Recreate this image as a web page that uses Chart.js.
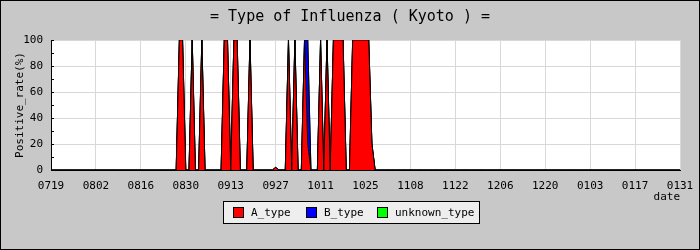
<!DOCTYPE html>
<html>
<head>
<meta charset="utf-8">
<script src="https://cdn.jsdelivr.net/npm/chart.js@4"></script>
<style>
  body { margin: 0; background: #c8c8c8; }
  #wrap { width: 700px; height: 250px; }
</style>
</head>
<body>
<div id="wrap"><canvas id="fluChart" width="700" height="250"></canvas></div>
<script>
// tick labels every 14 days, from 0719 to 0131
const tickLabels = ["0719", "0802", "0816", "0830", "0913", "0927", "1011", "1025",
                    "1108", "1122", "1206", "1220", "0103", "0117", "0131"];
const seriesNames = ["A_type", "B_type", "unknown_type"];
const seriesColors = ["#ff0000", "#0000ff", "#00ff00"];

// daily positive rate (%), one row = 14 days starting at the tick label
const aType = [
  0, 0, 0, 0, 0, 0, 0, 0, 0, 0, 0, 0, 0, 0,            // 0719
  0, 0, 0, 0, 0, 0, 0, 0, 0, 0, 0, 0, 0, 0,            // 0802
  0, 0, 0, 0, 0, 0, 0, 0, 0, 0, 0, 0, 100, 100,        // 0816
  0, 0, 100, 0, 0, 100, 0, 0, 0, 0, 0, 0, 100, 100,    // 0830
  0, 100, 100, 0, 0, 0, 100, 0, 0, 0, 0, 0, 0, 0,      // 0913
  2, 0, 0, 0, 100, 0, 100, 0, 0, 100, 20, 0, 0, 0,     // 0927
  100, 0, 100, 0, 100, 100, 100, 100, 0, 0, 100, 100, 100, 100, // 1011
  100, 100, 20, 0, 0, 0, 0, 0, 0, 0, 0, 0, 0, 0,       // 1025
  0, 0, 0, 0, 0, 0, 0, 0, 0, 0, 0, 0, 0, 0,            // 1108
  0, 0, 0, 0, 0, 0, 0, 0, 0, 0, 0, 0, 0, 0,            // 1122
  0, 0, 0, 0, 0, 0, 0, 0, 0, 0, 0, 0, 0, 0,            // 1206
  0, 0, 0, 0, 0, 0, 0, 0, 0, 0, 0, 0, 0, 0,            // 1220
  0, 0, 0, 0, 0, 0, 0, 0, 0, 0, 0, 0, 0, 0,            // 0103
  0, 0, 0, 0, 0, 0, 0, 0, 0, 0, 0, 0, 0, 0,            // 0117
  0                                                    // 0131
];
const bType = [
  0, 0, 0, 0, 0, 0, 0, 0, 0, 0, 0, 0, 0, 0,
  0, 0, 0, 0, 0, 0, 0, 0, 0, 0, 0, 0, 0, 0,
  0, 0, 0, 0, 0, 0, 0, 0, 0, 0, 0, 0, 0, 0,
  0, 0, 0, 0, 0, 0, 0, 0, 0, 0, 0, 0, 0, 0,
  0, 0, 0, 0, 0, 0, 0, 0, 0, 0, 0, 0, 0, 0,
  0, 0, 0, 0, 0, 0, 0, 0, 0, 0, 80, 0, 0, 0,           // 0927
  0, 0, 0, 0, 0, 0, 0, 0, 0, 0, 0, 0, 0, 0,
  0, 0, 0, 0, 0, 0, 0, 0, 0, 0, 0, 0, 0, 0,
  0, 0, 0, 0, 0, 0, 0, 0, 0, 0, 0, 0, 0, 0,
  0, 0, 0, 0, 0, 0, 0, 0, 0, 0, 0, 0, 0, 0,
  0, 0, 0, 0, 0, 0, 0, 0, 0, 0, 0, 0, 0, 0,
  0, 0, 0, 0, 0, 0, 0, 0, 0, 0, 0, 0, 0, 0,
  0, 0, 0, 0, 0, 0, 0, 0, 0, 0, 0, 0, 0, 0,
  0, 0, 0, 0, 0, 0, 0, 0, 0, 0, 0, 0, 0, 0,
  0
];
const unknownType = [
  0, 0, 0, 0, 0, 0, 0, 0, 0, 0, 0, 0, 0, 0,
  0, 0, 0, 0, 0, 0, 0, 0, 0, 0, 0, 0, 0, 0,
  0, 0, 0, 0, 0, 0, 0, 0, 0, 0, 0, 0, 0, 0,
  0, 0, 0, 0, 0, 0, 0, 0, 0, 0, 0, 0, 0, 0,
  0, 0, 0, 0, 0, 0, 0, 0, 0, 0, 0, 0, 0, 0,
  0, 0, 0, 0, 0, 0, 0, 0, 0, 0, 0, 0, 0, 0,
  0, 0, 0, 0, 0, 0, 0, 0, 0, 0, 0, 0, 0, 0,
  0, 0, 0, 0, 0, 0, 0, 0, 0, 0, 0, 0, 0, 0,
  0, 0, 0, 0, 0, 0, 0, 0, 0, 0, 0, 0, 0, 0,
  0, 0, 0, 0, 0, 0, 0, 0, 0, 0, 0, 0, 0, 0,
  0, 0, 0, 0, 0, 0, 0, 0, 0, 0, 0, 0, 0, 0,
  0, 0, 0, 0, 0, 0, 0, 0, 0, 0, 0, 0, 0, 0,
  0, 0, 0, 0, 0, 0, 0, 0, 0, 0, 0, 0, 0, 0,
  0, 0, 0, 0, 0, 0, 0, 0, 0, 0, 0, 0, 0, 0,
  0
];

const MONO = "'DejaVu Sans Mono', 'Liberation Mono', monospace";
const toPoints = arr => arr.map((v, i) => ({ x: i, y: v }));

// white plot area behind everything
const plotBackground = {
  id: "plotBackground",
  beforeDraw(chart) {
    const a = chart.chartArea;
    const c = chart.ctx;
    c.save();
    c.fillStyle = "#ffffff";
    c.fillRect(a.left, a.top, a.right - a.left, a.bottom - a.top);
    c.restore();
  }
};

// title, frame, minor ticks, axis name and the boxed legend
const decorations = {
  id: "decorations",
  afterDraw(chart) {
    const c = chart.ctx;
    const area = chart.chartArea;
    const y = chart.scales.y;
    c.save();
    c.strokeStyle = "#000";
    c.lineWidth = 1;
    c.strokeRect(0.5, 0.5, 699, 249);

    // minor ticks every 10 on the y axis
    c.beginPath();
    for (let v = 0; v <= 100; v += 10) {
      const py = Math.round(y.getPixelForValue(v)) + 0.5;
      c.moveTo(area.left, py);
      c.lineTo(area.left + 3, py);
    }
    c.stroke();

    c.fillStyle = "#000";
    c.font = "15px " + MONO;
    c.textAlign = "center";
    c.textBaseline = "middle";
    c.fillText("= Type of Influenza ( Kyoto ) =", 350, 17);

    c.font = "11px " + MONO;
    c.textAlign = "right";
    c.fillText("date", 680, 197);

    c.save();
    c.translate(20, (area.top + area.bottom) / 2);
    c.rotate(-Math.PI / 2);
    c.textAlign = "center";
    c.fillText("Positive_rate(%)", 0, 0);
    c.restore();

    // legend box
    c.fillStyle = "#eeeeee";
    c.fillRect(223.5, 201.5, 256, 22);
    c.strokeRect(223.5, 201.5, 256, 22);
    const itemX = [233, 306, 377];
    c.textAlign = "left";
    c.font = "11px " + MONO;
    seriesNames.forEach((name, i) => {
      c.fillStyle = seriesColors[i];
      c.fillRect(itemX[i] + 0.5, 207.5, 10, 10);
      c.strokeRect(itemX[i] + 0.5, 207.5, 10, 10);
      c.fillStyle = "#000";
      c.fillText(name, itemX[i] + 18, 213);
    });
    c.restore();
  }
};

const ctx = document.getElementById("fluChart").getContext("2d");
const datasets = [aType, bType, unknownType].map((arr, i) => ({
  label: seriesNames[i],
  data: toPoints(arr),
  backgroundColor: seriesColors[i],
  borderColor: "#000",
  borderWidth: 1,
  pointRadius: 0,
  tension: 0,
  fill: i === 0 ? "origin" : "-1"
}));

new Chart(ctx, {
  type: "line",
  data: { datasets: datasets },
  options: {
    responsive: false,
    animation: false,
    layout: { padding: { top: 40, right: 20, left: 0, bottom: 0 } },
    plugins: {
      legend: { display: false },
      tooltip: { enabled: false }
    },
    scales: {
      x: {
        type: "linear",
        min: 0,
        max: 196,
        afterFit(scale) {
          scale.height = 80;
          scale.paddingLeft = 0;
          scale.paddingRight = 0;
        },
        ticks: {
          stepSize: 14,
          autoSkip: false,
          maxRotation: 0,
          color: "#000",
          font: { family: MONO, size: 11 },
          padding: 10,
          callback: v => tickLabels[v / 14]
        },
        grid: { color: "#d8d8d8", drawTicks: false },
        border: { color: "#000", width: 1 }
      },
      y: {
        stacked: true,
        min: 0,
        max: 100,
        afterFit(scale) { scale.width = 51; },
        ticks: {
          stepSize: 20,
          color: "#000",
          font: { family: MONO, size: 11 },
          padding: 8
        },
        grid: { color: "#d8d8d8", drawTicks: false },
        border: { color: "#000", width: 1 }
      }
    }
  },
  plugins: [plotBackground, decorations]
});
</script>
</body>
</html>
